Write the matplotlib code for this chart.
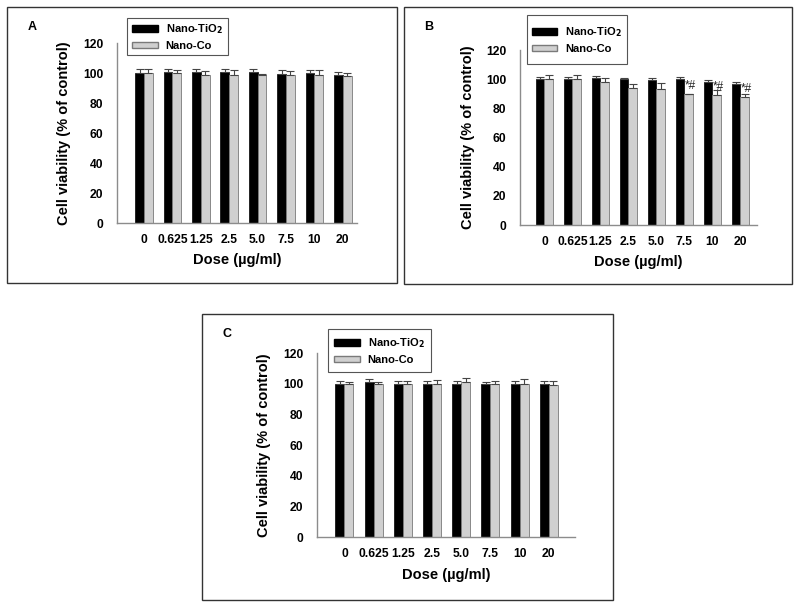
import matplotlib.pyplot as plt
from matplotlib.patches import Rectangle, Patch
import numpy as np

plt.rcParams['font.family'] = ['Liberation Sans', 'DejaVu Sans']
plt.rcParams['font.weight'] = 'bold'

doses = ["0", "0.625", "1.25", "2.5", "5.0", "7.5", "10", "20"]

# Panel A
a_tio2 = [100, 101, 100.5, 100.5, 100.5, 99.5, 100, 99]
a_tio2_err = [2.5, 2, 2.5, 2.5, 2, 2.5, 2, 1.5]
a_co = [100, 100, 99, 99, 99, 99, 99, 98]
a_co_err = [2.5, 2, 2.5, 3, 0.5, 2.5, 3, 2]

# Panel B
b_tio2 = [100, 100, 100.5, 100, 99.5, 100, 98, 96.5]
b_tio2_err = [1.5, 1.5, 2, 1, 1.5, 1.5, 1.5, 1.5]
b_co = [100, 100, 98, 94, 93, 89.5, 89, 88]
b_co_err = [3, 3, 3, 2.5, 4.5, 0.5, 3.5, 2]
b_marks = ["", "", "", "", "", "*#", "*#", "*#"]

# Panel C
c_tio2 = [100, 101, 99.5, 100, 100, 99.5, 100, 99.5]
c_tio2_err = [2, 2, 2.5, 2, 2, 1.5, 2, 2]
c_co = [100, 100, 99.5, 100, 101, 99.5, 99.5, 99]
c_co_err = [1, 1, 2.5, 2.5, 3, 2.5, 3.5, 3]

W, H = 800, 608
fig = plt.figure(figsize=(8, 6.08), dpi=100)


def frac(x0, y0, x1, y1):
    return [x0 / W, 1 - y1 / H, (x1 - x0) / W, (y1 - y0) / H]


def box(px, color, lw):
    f = frac(*px)
    fig.patches.append(Rectangle((f[0], f[1]), f[2], f[3], transform=fig.transFigure,
                                 fill=False, edgecolor=color, linewidth=lw))
    return f


def panel(outer, ax_px, xlim, tio2, tio2_err, co, co_err, label, leg_px,
          ylab_x, xlab_y, marks=None):
    bx = box(outer, '#333333', 1.0)
    ax = fig.add_axes(frac(*ax_px))
    x = np.arange(len(doses))
    w = 0.31
    ekw = dict(elinewidth=0.8, capsize=3, capthick=0.8)
    ax.bar(x - w / 2, tio2, w, color='black', edgecolor='black', linewidth=0.5,
           yerr=[np.zeros(len(x)), tio2_err], ecolor='#444444', error_kw=ekw)
    ax.bar(x + w / 2, co, w, color='#d0d0d0', edgecolor='#7a7a7a', linewidth=0.6,
           yerr=[np.zeros(len(x)), co_err], ecolor='#444444', error_kw=ekw)
    if marks:
        for i, m in enumerate(marks):
            if m:
                ax.text(x[i] + w / 2 + 0.05, co[i] + 5.5, m, ha='center', va='center',
                        fontsize=8.5, fontweight='normal', color='#222222')
    ax.set_xlim(*xlim)
    ax.set_ylim(0, 120)
    ax.set_yticks(range(0, 121, 20))
    ax.set_xticks(x)
    ax.set_xticklabels(doses)
    ax.tick_params(length=0, labelsize=8.7, pad=8)
    ax.tick_params(axis='y', pad=10)
    for s in ['top', 'right']:
        ax.spines[s].set_visible(False)
    for s in ['left', 'bottom']:
        ax.spines[s].set_color('#8c8c8c')
        ax.spines[s].set_linewidth(1.0)
    ax.set_xlabel("Dose (µg/ml)", fontsize=10.5, fontweight='bold')
    ax.set_ylabel("Cell viability (% of control)", fontsize=10.5, fontweight='bold')
    ax.yaxis.set_label_coords(ylab_x, 0.5)
    ax.xaxis.set_label_coords(0.5, xlab_y)
    fig.text(bx[0] + 25 / W, bx[1] + bx[3] - 20 / H, label, fontsize=9,
             fontweight='bold', ha='center', va='center')
    lf = box(leg_px, '#555555', 0.8)
    handles = [Patch(facecolor='black', edgecolor='black', label='Nano-TiO$_\\mathbf{2}$'),
               Patch(facecolor='#d0d0d0', edgecolor='#7a7a7a', label='Nano-Co')]
    fig.legend(handles=handles, loc='center',
               bbox_to_anchor=(lf[0] + lf[2] / 2, lf[1] + lf[3] / 2),
               bbox_transform=fig.transFigure,
               fontsize=8, frameon=False, handlelength=2.3, handleheight=0.55,
               borderpad=0, labelspacing=0.45, borderaxespad=0, handletextpad=0.7)
    return ax


panel((7, 7, 397, 283), (117, 43, 357, 223), (-0.95, 7.5),
      a_tio2, a_tio2_err, a_co, a_co_err, "A", (127, 18, 228, 55), -0.19, -0.165)
panel((404, 7, 792, 284), (520, 50, 757, 225), (-0.875, 7.6),
      b_tio2, b_tio2_err, b_co, b_co_err, "B", (527, 15, 627, 64), -0.19, -0.172,
      marks=b_marks)
panel((202, 314, 613, 600), (317, 353, 575, 537), (-0.94, 7.9),
      c_tio2, c_tio2_err, c_co, c_co_err, "C", (328, 329, 431, 372), -0.178, -0.17)

fig.savefig("out.png", dpi=100)
